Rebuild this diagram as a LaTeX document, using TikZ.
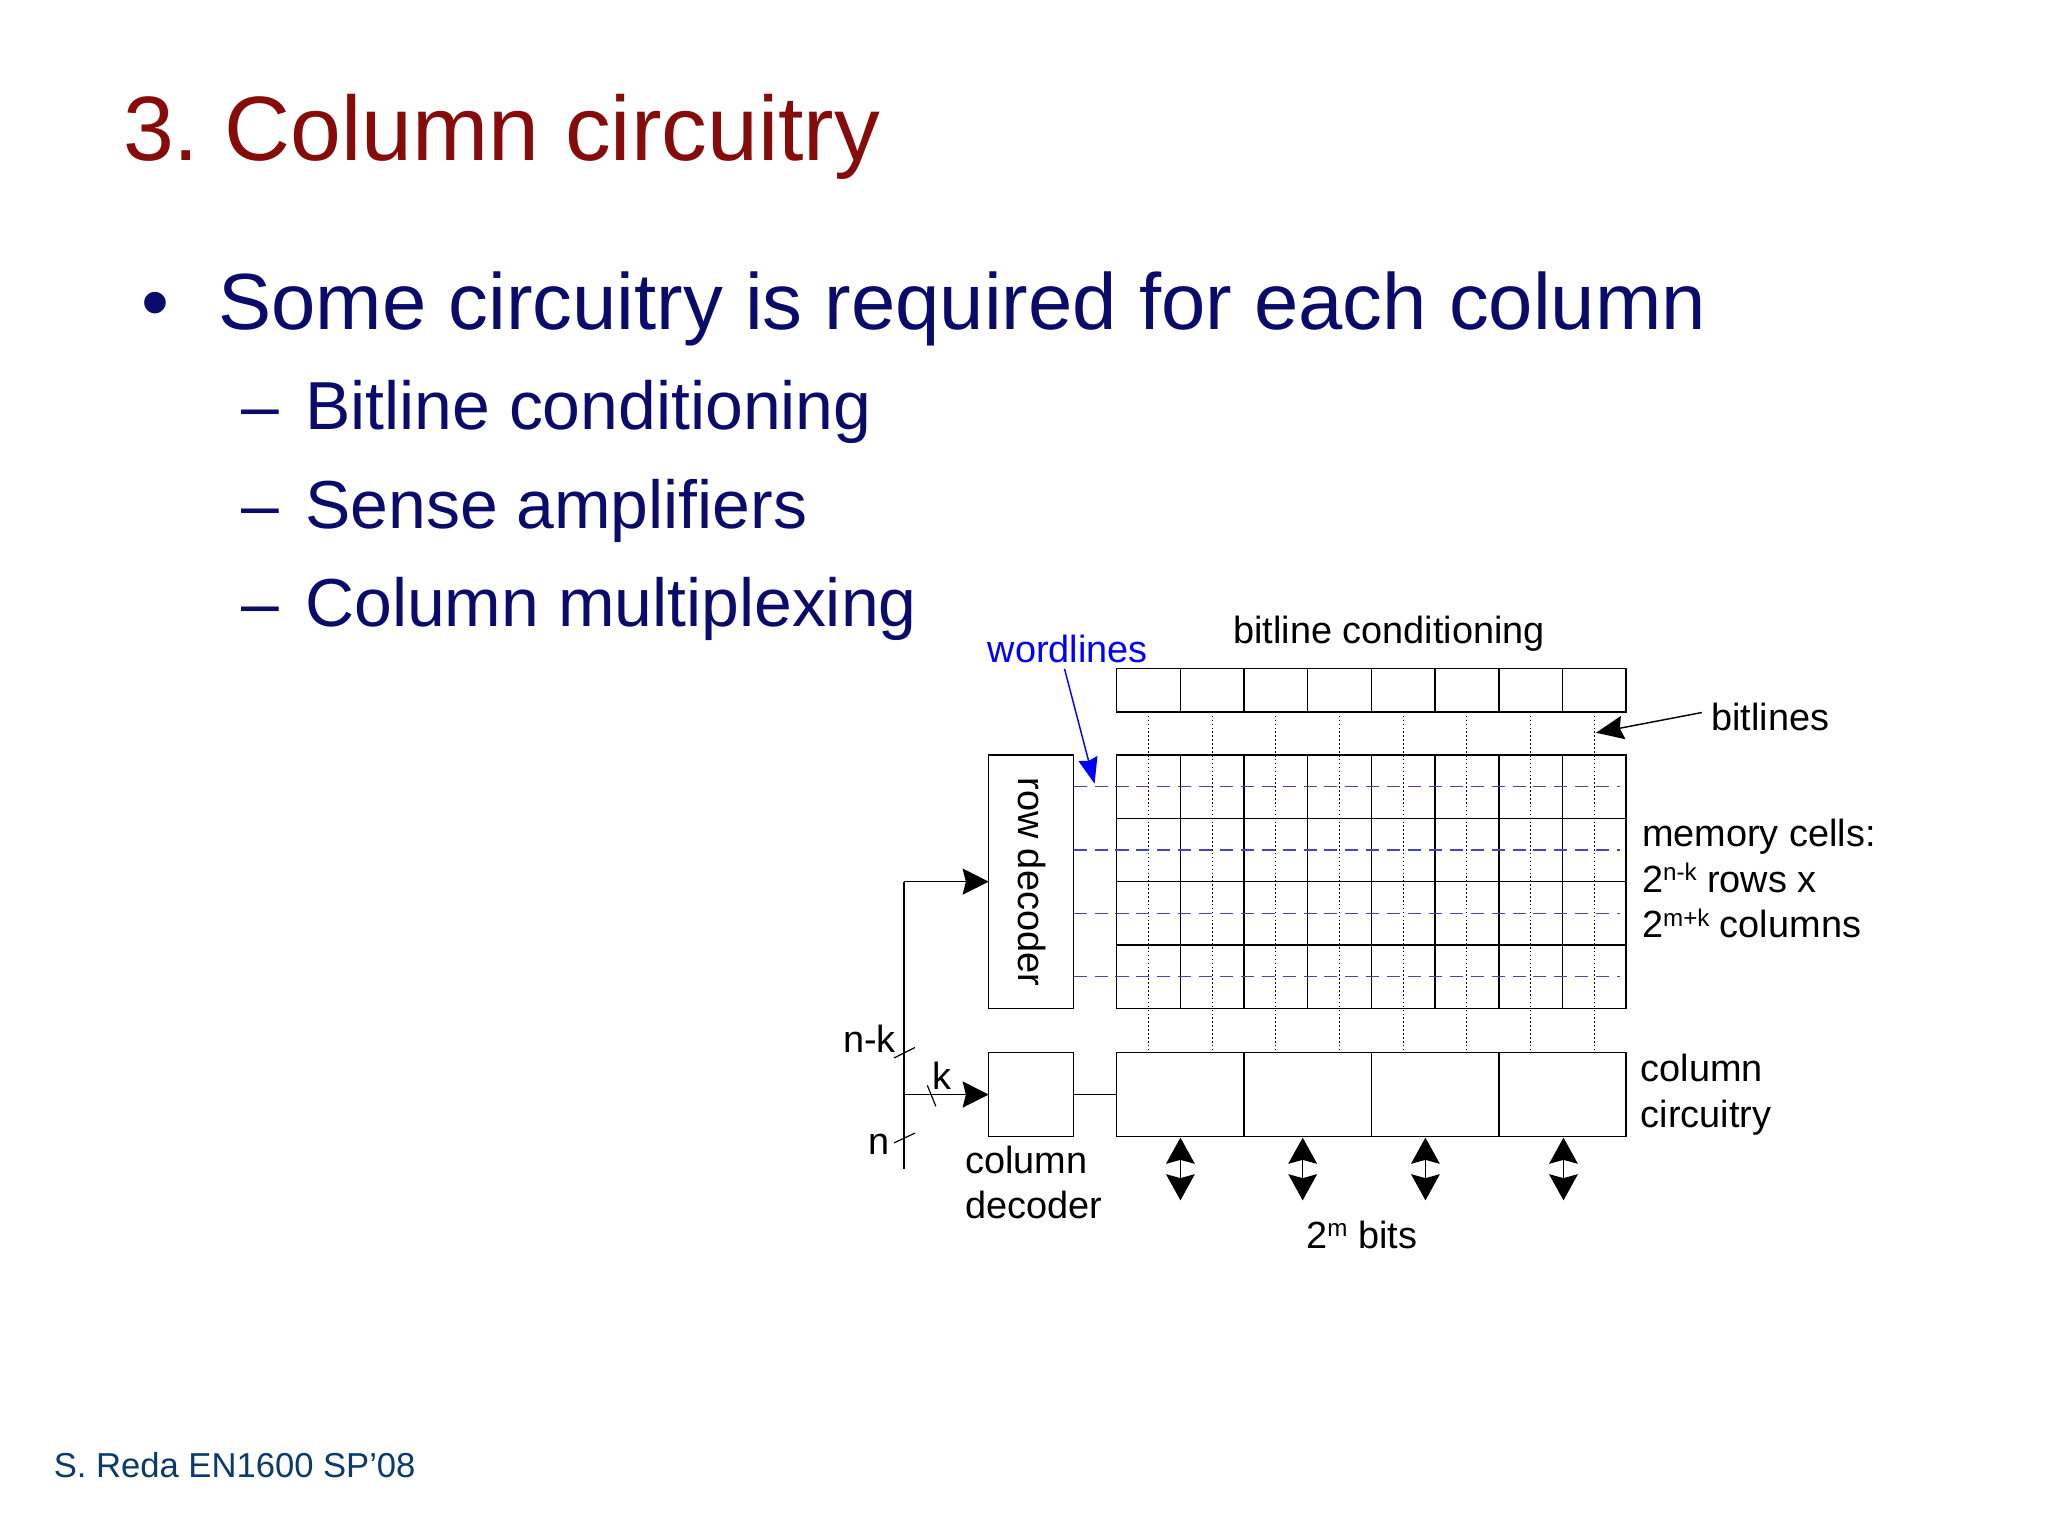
\documentclass[tikz,border=0pt]{standalone}
\usepackage{fontspec}
\setmainfont{Liberation Sans}
\usetikzlibrary{arrows.meta,calc}
\definecolor{titlered}{HTML}{860B0B}
\definecolor{mynavy}{HTML}{0B0B6C}
\definecolor{footblue}{HTML}{0B3A6B}
\definecolor{wlblue}{HTML}{4444C4}
\definecolor{wordblue}{HTML}{0000FF}
\tikzset{
  box/.style={draw=black, line width=1.1pt, inner sep=0pt, outer sep=0pt},
  lbl/.style={inner sep=0pt, anchor=base west, font=\fontsize{29}{34}\selectfont},
  slide/.style={inner sep=0pt, anchor=base west, text=mynavy},
  bitln/.style={line width=0.8pt, dash pattern=on 1.2pt off 1.8pt},
  wordln/.style={wlblue, line width=1.1pt, dash pattern=on 10pt off 6pt},
  conn/.style={line width=1.1pt},
  arr/.style={conn, -{Stealth[length=20pt,width=20pt,inset=2.5pt]}},
  darr/.style={line width=0.9pt, {Stealth[length=20pt,width=22pt,inset=3pt]}-{Stealth[length=20pt,width=22pt,inset=3pt]}},
}
\newcommand{\supx}[1]{\raisebox{9pt}{\fontsize{18.5}{20}\selectfont #1}}
\frenchspacing
\begin{document}
\frenchspacing
\begin{tikzpicture}[x=1pt,y=-1pt]
\useasboundingbox (0,0) rectangle (1568,1176);
\fill[white] (0,0) rectangle (1568,1176);

% slide text
\node[inner sep=0pt, anchor=base west, text=titlered, font=\fontsize{70}{84}\selectfont] (title) at (94,123) {3. Column circuitry};
\node[slide, font=\fontsize{61}{73}\selectfont] (bul) at (108,252) {•};
\node[slide, font=\fontsize{61}{73}\selectfont] (b0) at (167,252) {Some circuitry is required for each column};
\node[slide, font=\fontsize{52}{62}\selectfont] (d1) at (185,329) {–};
\node[slide, font=\fontsize{52}{62}\selectfont] (s1) at (233.5,329) {Bitline conditioning};
\node[slide, font=\fontsize{52}{62}\selectfont] (d2) at (185,404.5) {–};
\node[slide, font=\fontsize{52}{62}\selectfont] (s2) at (233.5,404.5) {Sense amplifiers};
\node[slide, font=\fontsize{52}{62}\selectfont] (d3) at (185,480) {–};
\node[slide, font=\fontsize{52}{62}\selectfont] (s3) at (233.5,480) {Column multiplexing};
\node[inner sep=0pt, anchor=base west, text=footblue, font=\fontsize{26.5}{30}\selectfont] (foot) at (41,1131) {S. Reda EN1600 SP’08};

% blocks
\node[box, minimum width=390pt, minimum height=33pt] (bc) at (1050,528.5) {};
\node[box, minimum width=390pt, minimum height=194pt] (arr) at (1050,675) {};
\node[box, minimum width=390pt, minimum height=64pt] (cc) at (1050,838) {};
\node[box, minimum width=65pt, minimum height=194pt] (rd) at (789.5,675) {};
\node[box, minimum width=65pt, minimum height=64pt] (cd) at (789.5,838) {};
\node[inner sep=0pt, rotate=-90, font=\fontsize{29}{34}\selectfont] (rdt) at (790,675) {row decoder};

% bitlines (dotted)
\foreach \i in {1,...,8} {
  \draw[bitln] ($(bc.south west)!{(\i-0.5)/8}!(bc.south east)$) -- ($(cc.north west)!{(\i-0.5)/8}!(cc.north east)$);
}
% grid lines
\foreach \i in {1,...,7} {
  \draw[line width=1.1pt] ($(bc.north west)!{\i/8}!(bc.north east)$) -- ($(bc.south west)!{\i/8}!(bc.south east)$);
  \draw[line width=1.1pt] ($(arr.north west)!{\i/8}!(arr.north east)$) -- ($(arr.south west)!{\i/8}!(arr.south east)$);
}
\foreach \j in {1,2,3} {
  \draw[line width=1.1pt] ($(arr.north west)!{\j/4}!(arr.south west)$) -- ($(arr.north east)!{\j/4}!(arr.south east)$);
}
\foreach \i in {1,2,3} {
  \draw[line width=1.1pt] ($(cc.north west)!{\i/4}!(cc.north east)$) -- ($(cc.south west)!{\i/4}!(cc.south east)$);
}
% wordlines
\foreach \j in {1,...,4} {
  \draw[wordln] ($(rd.north east)!{(\j-0.5)/4}!(rd.south east)$) -- ++(418,0);
}

% labels
\node[lbl] (bct) at (944,492.5) {bitline conditioning};
\node[lbl, text=wordblue] (wlt) at (756,507.5) {wordlines};
\node[lbl] (blt) at (1310,559) {bitlines};
\node[lbl] (mc1) at (1257,648) {memory cells:};
\node[lbl] (mc2) at (1257,683) {2\supx{n-k} rows x};
\node[lbl] (mc3) at (1257,718) {2\supx{m+k} columns};
\node[lbl] (cc1) at (1256,828) {column};
\node[lbl] (cc2) at (1256,863) {circuitry};
\node[lbl] (cd1) at (739,898.5) {column};
\node[lbl] (cd2) at (739,933) {decoder};
\node[lbl] (bits) at (1000,956) {2\supx{m} bits};
\node[lbl, anchor=base east] (nk) at (686,806) {n-k};
\node[lbl] (kl) at (714,834) {k};
\node[lbl, anchor=base east] (nl) at (681,884) {n};

% annotation arrows
\coordinate (wltail) at (815,512);
\coordinate (wltip) at (838,600);
\draw[wordblue, line width=1.1pt, -{Stealth[length=20pt,width=15pt,inset=2pt]}] (wltail) -- (wltip);
\coordinate (bltail) at (1303,545.5);
\coordinate (bltip) at (1222,561);
\draw[line width=1.1pt, -{Stealth[length=21pt,width=18pt,inset=2.5pt]}] (bltail) -- (bltip);

% address bus
\coordinate (bustop) at (692,675);
\coordinate (busk) at (692,838);
\coordinate (busbot) at (692,895);
\draw[conn] (busbot) -- (bustop);
\draw[arr] (bustop) -- (rd.west);
\draw[arr] (busk) -- (cd.west);
\draw[conn] (cd.east) -- (cc.west);
% bus width slashes
\coordinate (s1a) at (684.5,810); \coordinate (s1b) at (700.5,802);
\coordinate (s2a) at (710,831); \coordinate (s2b) at (716.5,847);
\coordinate (s3a) at (684.5,875); \coordinate (s3b) at (700.5,867.5);
\draw[line width=0.9pt] (s1a) -- (s1b);
\draw[line width=0.9pt] (s2a) -- (s2b);
\draw[line width=0.9pt] (s3a) -- (s3b);

% data arrows
\foreach \f/\n in {0.125/1,0.365/2,0.606/3,0.877/4} {
  \coordinate (da\n) at ($(cc.south west)!\f!(cc.south east)+(0,1)$);
  \coordinate (db\n) at ($(da\n)+(0,48)$);
  \draw[darr] (da\n) -- (db\n);
}
\end{tikzpicture}
\end{document}
